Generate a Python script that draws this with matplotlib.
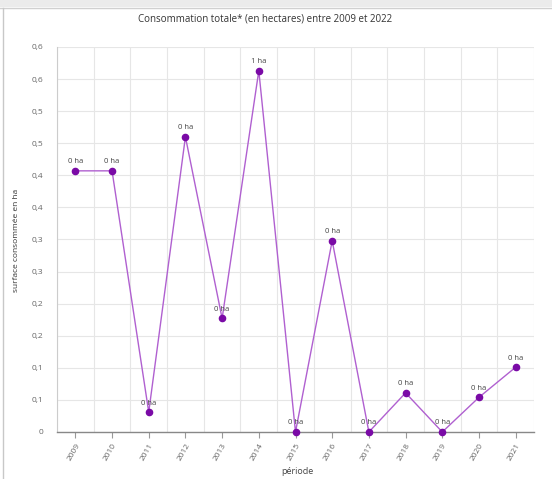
import matplotlib
matplotlib.use("Agg")
import matplotlib.pyplot as plt
from matplotlib.patches import Rectangle
from matplotlib.lines import Line2D
import numpy as np

years = ["2009", "2010", "2011", "2012", "2013", "2014", "2015",
         "2016", "2017", "2018", "2019", "2020", "2021"]
values = [0.407, 0.407, 0.031, 0.460, 0.177, 0.563, 0.0,
          0.298, 0.0, 0.061, 0.0, 0.054, 0.101]
y_ticks = [0, 0.05, 0.1, 0.15, 0.2, 0.25, 0.3, 0.35, 0.4, 0.45, 0.5, 0.55, 0.6]
y_tick_labels = ["0", "0,1", "0,1", "0,2", "0,2", "0,3", "0,3",
                 "0,4", "0,4", "0,5", "0,5", "0,6", "0,6"]
point_labels = [f"{int(np.floor(v + 0.5))} ha" for v in values]

title = "Consommation totale* (en hectares) entre 2009 et 2022"
xlabel = "période"
ylabel = "surface consommée en ha"

plt.rcParams['font.family'] = ['Open Sans', 'DejaVu Sans']

W, H = 552, 479
fig = plt.figure(figsize=(W / 100, H / 100), dpi=100)
fig.patch.set_facecolor("white")

# top gray band and frame
fig.add_artist(Rectangle((0, 1 - 7 / H), 1, 7 / H, transform=fig.transFigure,
                         facecolor="#ebebeb", edgecolor="none"))
fig.add_artist(Line2D([0, 1], [1 - 8 / H, 1 - 8 / H], transform=fig.transFigure,
                      color="#d0d0d0", lw=1))
fig.add_artist(Line2D([2.5 / W, 2.5 / W], [0, 1 - 8 / H], transform=fig.transFigure,
                      color="#c8c8c8", lw=1))

left, right, top, bottom = 57, 534, 47, 432
ax = fig.add_axes([left / W, 1 - bottom / H, (right - left) / W, (bottom - top) / H])

x = np.arange(len(years))
ax.plot(x, values, color="#b060d0", lw=1.0, zorder=3)
ax.scatter(x, values, s=20, color="#7a0aa6", zorder=4, clip_on=False)
for xi, v, lab in zip(x, values, point_labels):
    ax.annotate(lab, (xi, v), xytext=(0, 4), textcoords="offset points",
                ha="center", va="bottom", fontsize=5.5, color="#444444", zorder=5)

ax.set_xlim(-0.5, len(years) - 0.5)
ax.set_ylim(0, 0.6)
ax.set_yticks(y_ticks)
ax.set_yticklabels(y_tick_labels)
ax.set_xticks(x)
ax.set_xticklabels(years, rotation=60, ha="right", rotation_mode="anchor")
ax.set_xticks(np.arange(-0.5, len(years), 1.0), minor=True)

ax.grid(False)
for yv in y_ticks:
    ax.axhline(yv, color="#e6e6e6", lw=0.8, zorder=0)
for xv in np.arange(-0.5, len(years), 1.0):
    ax.axvline(xv, color="#e6e6e6", lw=0.8, zorder=0)

ax.tick_params(axis="y", length=0, pad=10, labelsize=6, labelcolor="#666666")
ax.tick_params(axis="x", which="major", length=4, width=0.8, color="#999999",
               pad=3, labelsize=6, labelcolor="#666666")
ax.tick_params(axis="x", which="minor", length=0)

for s in ["top", "right"]:
    ax.spines[s].set_visible(False)
ax.spines["left"].set_color("#cccccc")
ax.spines["left"].set_linewidth(0.8)
ax.spines["bottom"].set_color("#888888")
ax.spines["bottom"].set_linewidth(1.0)

fig.text(265 / W, 1 - 19 / H, title, ha="center", va="center",
         fontsize=7, color="#333333")
fig.text(297 / W, 1 - 472 / H, xlabel, ha="center", va="center",
         fontsize=6.5, color="#444444")
fig.text(17 / W, 1 - 240 / H, ylabel, ha="center", va="center",
         rotation=90, fontsize=6, color="#333333")

fig.savefig("out.png", dpi=100)
